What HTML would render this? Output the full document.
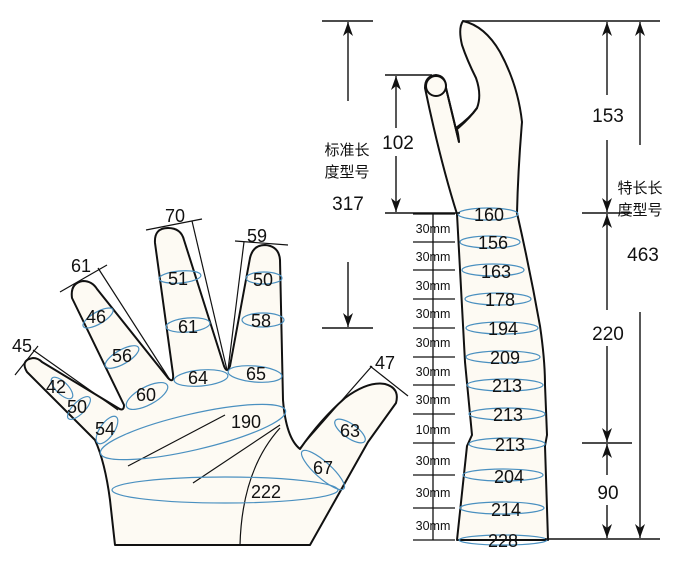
<!DOCTYPE html>
<html><head><meta charset="utf-8"><style>
html,body{margin:0;padding:0;background:#fff;}
svg{display:block;}
text{font-family:"Liberation Sans","Noto Sans CJK SC",sans-serif;fill:#111;}
</style></head><body>
<svg width="700" height="568" viewBox="0 0 700 568" xmlns="http://www.w3.org/2000/svg">
<defs>
<marker id="ah" markerWidth="14" markerHeight="10" refX="14" refY="5" orient="auto" markerUnits="userSpaceOnUse" viewBox="0 0 14 10">
<path d="M0,0 L14,5 L0,10 L4,5 Z" fill="#111"/></marker>
</defs>

<!-- HAND -->
<path d="M95,440 L27,372 Q20,360 33,358 Q38,358 42,362 L118,408 Q124,412 124,405
 L72,298 Q70,283 83,281 Q92,281 97,289 L168,378 Q174,384 173,374
 L155,243 Q154,228 168,228 Q181,228 184,240 L224,366 Q227,374 230,366
 L250,258 Q253,245 265,245 Q279,246 280,260 L283,400 Q286,438 300,449
 Q320,420 345,398 Q368,381 385,384 Q400,388 396,403 L368,442 L310,545 L115,545 L110,500 Q105,462 95,440 Z"
 fill="#fdfaf3" stroke="#111" stroke-width="2" stroke-linejoin="round"/>

<g stroke="#111" stroke-width="1.2" fill="none">
<line x1="15" y1="375" x2="38" y2="346"/><line x1="33" y1="350" x2="118" y2="410"/>
<line x1="60" y1="292" x2="107" y2="265"/><line x1="98" y1="268" x2="170" y2="380"/>
<line x1="146" y1="230" x2="202" y2="219"/><line x1="192" y1="221" x2="227" y2="370"/>
<line x1="235" y1="241" x2="288" y2="245"/><line x1="244" y1="242" x2="228" y2="370"/>
<line x1="370" y1="366" x2="408" y2="396"/><line x1="300" y1="448" x2="372" y2="366"/>
<line x1="128" y1="466" x2="225" y2="415"/>
<line x1="193" y1="483" x2="280" y2="425"/>
<path d="M280,428 Q242,470 240,545"/>
</g>

<g stroke="#4a90c0" stroke-width="1.2" fill="none">
<ellipse cx="62" cy="388" rx="14" ry="6" transform="rotate(45 62 388)"/>
<ellipse cx="79" cy="408" rx="15" ry="6" transform="rotate(-45 79 408)"/>
<ellipse cx="107" cy="430" rx="16" ry="7" transform="rotate(-55 107 430)"/>
<ellipse cx="98" cy="318" rx="17" ry="6" transform="rotate(-30 98 318)"/>
<ellipse cx="122" cy="357" rx="19" ry="7" transform="rotate(-30 122 357)"/>
<ellipse cx="147" cy="396" rx="23" ry="9" transform="rotate(-28 147 396)"/>
<ellipse cx="180" cy="277" rx="21" ry="6" transform="rotate(-5 180 277)"/>
<ellipse cx="188" cy="325" rx="22" ry="7" transform="rotate(-5 188 325)"/>
<ellipse cx="201" cy="378" rx="27" ry="8" transform="rotate(-5 201 378)"/>
<ellipse cx="264" cy="278" rx="18" ry="6"/>
<ellipse cx="263" cy="320" rx="21" ry="7"/>
<ellipse cx="255" cy="374" rx="27" ry="8" transform="rotate(5 255 374)"/>
<ellipse cx="193" cy="432" rx="95" ry="18" transform="rotate(-13 193 432)"/>
<ellipse cx="225" cy="490" rx="113" ry="13"/>
<ellipse cx="350" cy="431" rx="18" ry="7" transform="rotate(35 350 431)"/>
<ellipse cx="323" cy="470" rx="28" ry="8" transform="rotate(42 323 470)"/>
</g>

<g font-size="18">
<text x="12" y="352">45</text>
<text x="46" y="393">42</text>
<text x="67" y="413">50</text>
<text x="95" y="435">54</text>
<text x="71" y="272">61</text>
<text x="86" y="323">46</text>
<text x="112" y="362">56</text>
<text x="136" y="401">60</text>
<text x="165" y="222">70</text>
<text x="168" y="285">51</text>
<text x="178" y="333">61</text>
<text x="188" y="384">64</text>
<text x="247" y="242">59</text>
<text x="253" y="286">50</text>
<text x="251" y="327">58</text>
<text x="246" y="380">65</text>
<text x="375" y="369">47</text>
<text x="231" y="428">190</text>
<text x="340" y="437">63</text>
<text x="313" y="474">67</text>
<text x="251" y="498">222</text>
</g>

<!-- ARM -->
<path d="M463,21 Q485,26 500,52 Q518,85 522,122 Q518,170 517,213 Q530,270 540,326 Q545,360 545,385 L547,435 L545,446 L548,540 L457,540 L467,446 L472,435 L465,362 L457,214
 Q440,160 425,88 Q425,76 436,75 Q446,76 446,88 L459,142 Q458,130 456,128 Q470,118 477,108 Q482,95 476,78 Q467,60 462,45 Q458,28 463,21 Z"
 fill="#fdfaf3" stroke="#111" stroke-width="2" stroke-linejoin="round"/>
<path d="M446,88 L459,142 M456,130 Q470,118 477,108" fill="none" stroke="#111" stroke-width="2"/>
<circle cx="436" cy="86" r="10" fill="#fdfaf3" stroke="#111" stroke-width="2"/>

<g stroke="#4a90c0" stroke-width="1.2" fill="none">
<ellipse cx="488" cy="214" rx="30" ry="6"/>
<ellipse cx="490" cy="242" rx="30" ry="6"/>
<ellipse cx="493" cy="270" rx="31" ry="6"/>
<ellipse cx="498" cy="299" rx="33" ry="6"/>
<ellipse cx="502" cy="328" rx="36" ry="6"/>
<ellipse cx="503" cy="357" rx="37" ry="6"/>
<ellipse cx="505" cy="385" rx="38" ry="6"/>
<ellipse cx="507" cy="414" rx="38" ry="6"/>
<ellipse cx="507" cy="444" rx="38" ry="6"/>
<ellipse cx="503" cy="475" rx="40" ry="6"/>
<ellipse cx="502" cy="508" rx="42" ry="6"/>
<ellipse cx="503" cy="540" rx="44" ry="5"/>
</g>
<g font-size="18" text-anchor="middle">
<text x="489" y="221">160</text>
<text x="493" y="249">156</text>
<text x="496" y="278">163</text>
<text x="500" y="306">178</text>
<text x="503" y="335">194</text>
<text x="505" y="364">209</text>
<text x="507" y="392">213</text>
<text x="508" y="421">213</text>
<text x="510" y="451">213</text>
<text x="509" y="483">204</text>
<text x="506" y="516">214</text>
<text x="503" y="547">228</text>
</g>

<g stroke="#111" stroke-width="1.3">
<line x1="433" y1="214" x2="433" y2="540"/>
<line x1="413" y1="214" x2="455" y2="214"/><line x1="413" y1="242" x2="455" y2="242"/>
<line x1="413" y1="270" x2="455" y2="270"/><line x1="413" y1="299" x2="455" y2="299"/>
<line x1="413" y1="328" x2="455" y2="328"/><line x1="413" y1="357" x2="455" y2="357"/>
<line x1="413" y1="385" x2="455" y2="385"/><line x1="413" y1="414" x2="455" y2="414"/>
<line x1="413" y1="443" x2="455" y2="443"/><line x1="413" y1="475" x2="455" y2="475"/>
<line x1="413" y1="508" x2="455" y2="508"/><line x1="413" y1="540" x2="455" y2="540"/>
</g>
<g font-size="12.5" text-anchor="middle">
<text x="433" y="233">30mm</text>
<text x="433" y="261">30mm</text>
<text x="433" y="290">30mm</text>
<text x="433" y="318">30mm</text>
<text x="433" y="347">30mm</text>
<text x="433" y="376">30mm</text>
<text x="433" y="404">30mm</text>
<text x="433" y="434">10mm</text>
<text x="433" y="465">30mm</text>
<text x="433" y="497">30mm</text>
<text x="433" y="530">30mm</text>
</g>

<g stroke="#111" stroke-width="1.4" fill="none">
<line x1="322" y1="21" x2="373" y2="21"/>
<line x1="348" y1="101" x2="348" y2="22" marker-end="url(#ah)"/>
<line x1="348" y1="262" x2="348" y2="327" marker-end="url(#ah)"/>
<line x1="322" y1="328" x2="373" y2="328"/>
<line x1="385" y1="75" x2="432" y2="75"/>
<line x1="385" y1="213" x2="460" y2="213"/>
<line x1="396" y1="128" x2="396" y2="76" marker-end="url(#ah)"/>
<line x1="396" y1="156" x2="396" y2="212" marker-end="url(#ah)"/>
<line x1="463" y1="21" x2="660" y2="21"/>
<line x1="607" y1="95" x2="607" y2="22" marker-end="url(#ah)"/>
<line x1="607" y1="140" x2="607" y2="212" marker-end="url(#ah)"/>
<line x1="582" y1="213" x2="632" y2="213"/>
<line x1="607" y1="310" x2="607" y2="214" marker-end="url(#ah)"/>
<line x1="607" y1="346" x2="607" y2="442" marker-end="url(#ah)"/>
<line x1="582" y1="443" x2="632" y2="443"/>
<line x1="607" y1="475" x2="607" y2="444" marker-end="url(#ah)"/>
<line x1="607" y1="505" x2="607" y2="538" marker-end="url(#ah)"/>
<line x1="545" y1="539" x2="660" y2="539"/>
<line x1="640" y1="145" x2="640" y2="22" marker-end="url(#ah)"/>
<line x1="640" y1="312" x2="640" y2="538" marker-end="url(#ah)"/>
</g>
<g font-size="19" text-anchor="middle">
<text x="398" y="149">102</text>
<text x="348" y="210">317</text>
<text x="608" y="122">153</text>
<text x="608" y="340">220</text>
<text x="608" y="499">90</text>
<text x="643" y="261">463</text>
</g>
<g font-size="15" text-anchor="middle">
<text x="347" y="155">标准长</text>
<text x="347" y="177">度型号</text>
<text x="640" y="193">特长长</text>
<text x="640" y="215">度型号</text>
</g>
</svg>
</body></html>
